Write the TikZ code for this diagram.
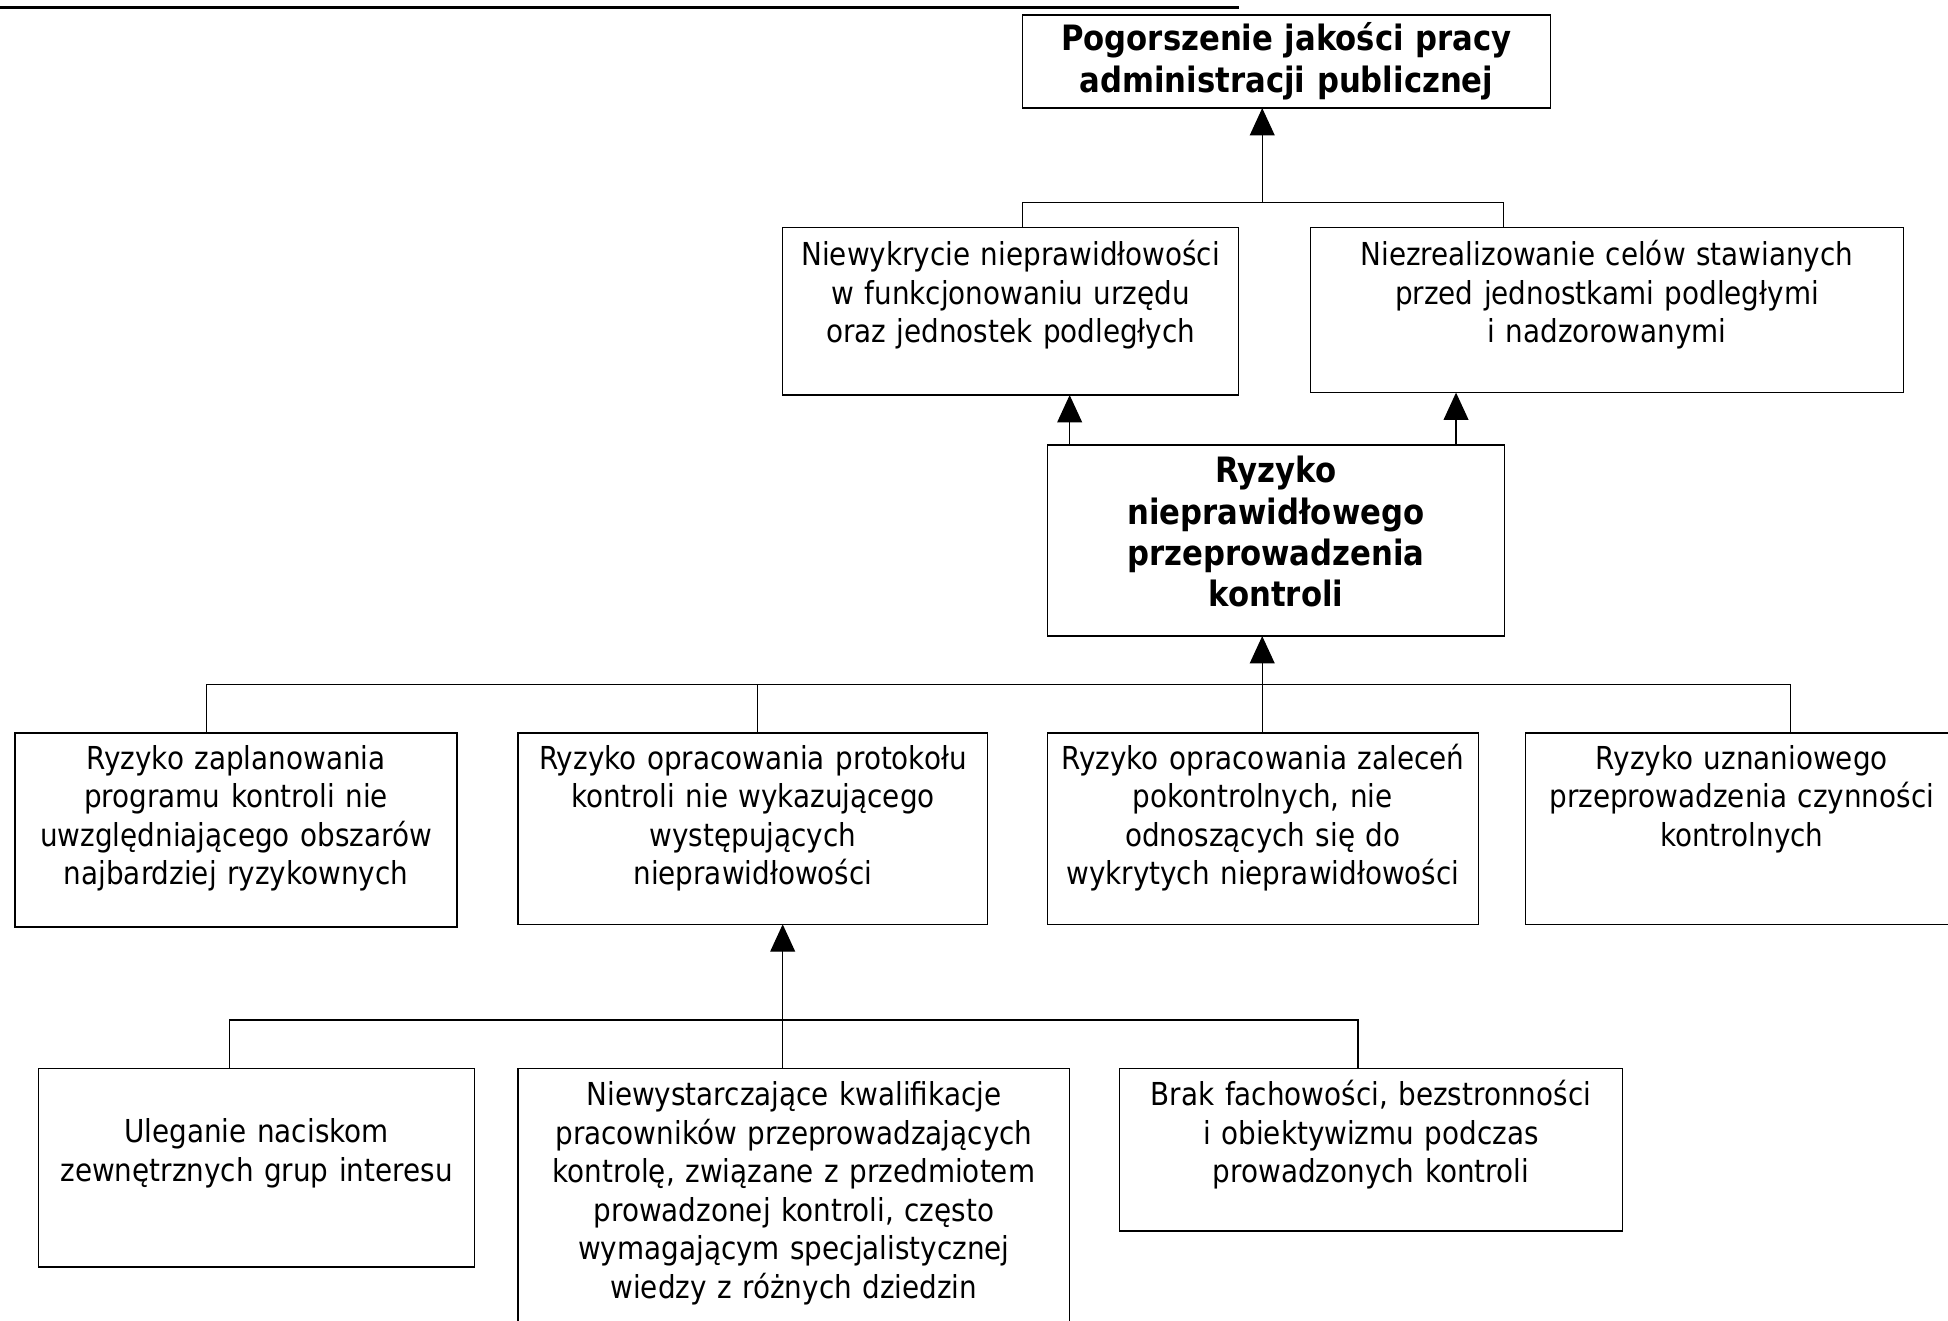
\documentclass[tikz,border=0pt]{standalone}
\usepackage{fontspec}
\setmainfont{DejaVu Sans}[FakeStretch=0.88]
\usetikzlibrary{arrows.meta}
\begin{document}
\begin{tikzpicture}[x=1pt,y=-1pt,
  box/.style={draw, line width=1.2pt, inner sep=0pt, outer sep=0pt},
  txt/.style={align=center, inner sep=0pt, anchor=base, font=\fontsize{25.45}{31}\selectfont},
  btxt/.style={align=center, inner sep=0pt, anchor=base, font=\fontsize{28.1}{34}\selectfont\bfseries},
  link/.style={line width=1pt},
  arr/.style={link, -{Triangle[length=22pt,width=20pt]}}]
\clip (0,0) rectangle (1568,1063);

% rule at the top of the page
\draw[line width=1.8pt] (0,6) -- (997,6);

% level 1
\node[box, minimum width=425pt, minimum height=75pt] (A) at (1035.5,49.5) {};
\node[btxt, text width=415pt] (At) at (1035.5,40.5) {Pogorszenie jakości pracy\\administracji publicznej};

% level 2
\node[box, minimum width=367pt, minimum height=135pt] (B) at (813.5,250.5) {};
\node[txt, text width=360pt] (Bt) at (813.5,214) {Niewykrycie nieprawidłowości\\w funkcjonowaniu urzędu\\oraz jednostek podległych};
\node[box, minimum width=477pt, minimum height=133pt] (C) at (1293.5,249.5) {};
\node[txt, text width=470pt] (Ct) at (1293.5,214) {Niezrealizowanie celów stawianych\\przed jednostkami podległymi\\i nadzorowanymi};

% level 3
\node[box, minimum width=368pt, minimum height=154pt] (D) at (1027,435) {};
\node[btxt, text width=360pt, font=\fontsize{28.1}{33.3}\selectfont\bfseries] (Dt) at (1027,388.5) {Ryzyko\\nieprawidłowego\\przeprowadzenia\\kontroli};

% level 4
\node[box, minimum width=356pt, minimum height=156pt] (E) at (190,668) {};
\node[txt, text width=350pt] (Et) at (190,619) {Ryzyko zaplanowania\\programu kontroli nie\\uwzględniającego obszarów\\najbardziej ryzykownych};
\node[box, minimum width=378pt, minimum height=154pt] (F) at (606,667) {};
\node[txt, text width=370pt] (Ft) at (606,619) {Ryzyko opracowania protokołu\\kontroli nie wykazującego\\występujących\\nieprawidłowości};
\node[box, minimum width=347pt, minimum height=154pt] (G) at (1016.5,667) {};
\node[txt, text width=340pt] (Gt) at (1016.5,619) {Ryzyko opracowania zaleceń\\pokontrolnych, nie\\odnoszących się do\\wykrytych nieprawidłowości};
\node[box, minimum width=348pt, minimum height=154pt] (H) at (1402,667) {};
\node[txt, text width=340pt] (Ht) at (1402,619) {Ryzyko uznaniowego\\przeprowadzenia czynności\\kontrolnych};

% level 5
\node[box, minimum width=351pt, minimum height=160pt] (I) at (206.5,940) {};
\node[txt, text width=345pt] (It) at (206.5,920) {Uleganie naciskom\\zewnętrznych grup interesu};
\node[box, minimum width=444pt, minimum height=220pt] (J) at (639,970) {};
\node[txt, text width=440pt] (Jt) at (639,890) {Niewystarczające kwalifikacje\\pracowników przeprowadzających\\kontrolę, związane z przedmiotem\\prowadzonej kontroli, często\\wymagającym specjalistycznej\\wiedzy z różnych dziedzin};
\node[box, minimum width=405pt, minimum height=131pt] (K) at (1103.5,925.5) {};
\node[txt, text width=400pt] (Kt) at (1103.5,890) {Brak fachowości, bezstronności\\i obiektywizmu podczas\\prowadzonych kontroli};

% connectors: level 2 -> level 1
\coordinate (up1) at (1016,163);
\coordinate (b1l) at (823,163);
\coordinate (b1r) at (1210,163);
\draw[arr] (up1) -- (up1 |- A.south);
\draw[link] (b1l |- B.north) -- (b1l) -- (b1r) -- (b1r |- C.north);

% connectors: level 3 -> level 2
\coordinate (dB) at (861,340);
\coordinate (dC) at (1172,340);
\draw[arr] (dB |- D.north) -- (dB |- B.south);
\draw[arr] (dC |- D.north) -- (dC |- C.south);

% connectors: level 4 -> level 3
\coordinate (up3) at (1016,551);
\coordinate (b3l) at (166,551);
\coordinate (b3m) at (610,551);
\coordinate (b3r) at (1441,551);
\draw[arr] (up3 |- G.north) -- (up3 |- D.south);
\draw[link] (b3l |- E.north) -- (b3l) -- (b3r) -- (b3r |- H.north);
\draw[link] (b3m) -- (b3m |- F.north);

% connectors: level 5 -> protocol risk
\coordinate (up4) at (630,821);
\coordinate (b4l) at (185,821);
\coordinate (b4r) at (1093,821);
\draw[arr] (up4 |- J.north) -- (up4 |- F.south);
\draw[link] (b4l |- I.north) -- (b4l) -- (b4r) -- (b4r |- K.north);
\end{tikzpicture}
\end{document}
